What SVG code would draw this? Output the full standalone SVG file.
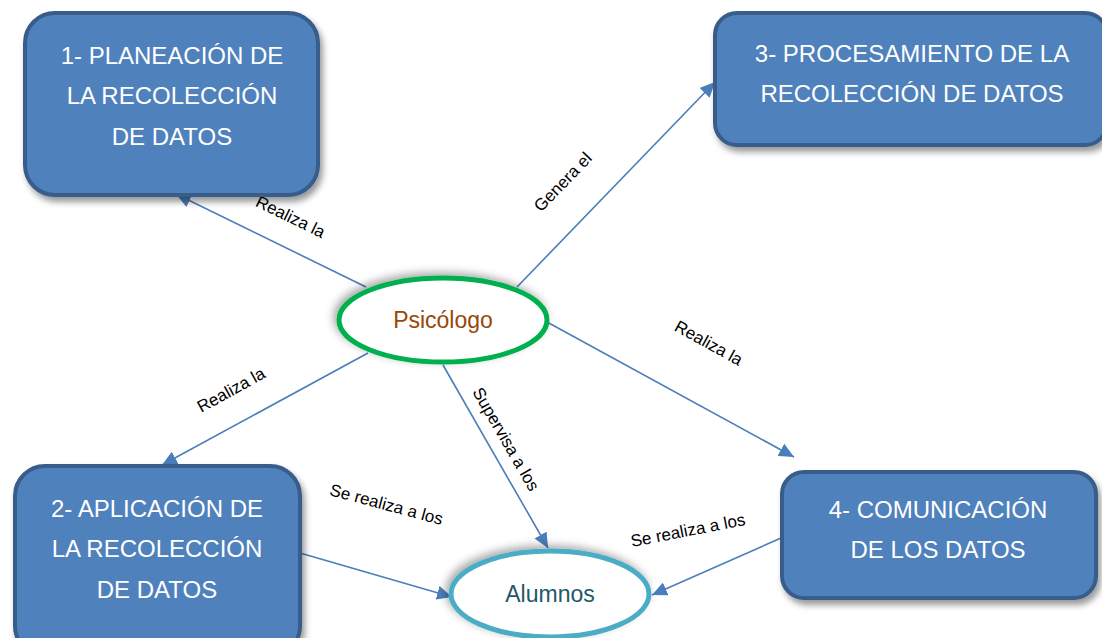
<svg xmlns="http://www.w3.org/2000/svg" width="1102" height="638" viewBox="0 0 1102 638">
<style>
.box{fill:#4F81BD;stroke:#385D8A;stroke-width:4}
.bt{font-family:"Liberation Sans",Arial,sans-serif;font-size:24px;fill:#FFFFFF;text-anchor:middle}
.conn{stroke:#4A7EBB;stroke-width:1.6;fill:none;marker-end:url(#ah)}
.lbl{font-family:"Liberation Sans",Arial,sans-serif;font-size:17px;fill:#000000;text-anchor:middle}
</style>
<defs>
<marker id="ah" markerUnits="userSpaceOnUse" markerWidth="16" markerHeight="14" refX="15" refY="7" orient="auto">
<path d="M0,0 L15,7 L0,14 Z" fill="#4A7EBB"/>
</marker>
<filter id="sh" x="-10%" y="-10%" width="125%" height="130%">
<feDropShadow dx="3" dy="5" stdDeviation="3" flood-color="#000" flood-opacity="0.4"/>
</filter>
<filter id="esh" x="-15%" y="-25%" width="130%" height="150%">
<feDropShadow dx="-3" dy="-3" stdDeviation="4" flood-color="#000" flood-opacity="0.35"/>
</filter>
</defs>
<rect width="1102" height="638" fill="#FFFFFF"/>
<g id="connectors">
<line class="conn" x1="366" y1="287" x2="176" y2="194"/>
<line class="conn" x1="517" y1="287" x2="715" y2="82"/>
<line class="conn" x1="547" y1="322" x2="794" y2="457"/>
<line class="conn" x1="368" y1="353" x2="162" y2="465"/>
<line class="conn" x1="443" y1="365" x2="548" y2="548"/>
<line class="conn" x1="300" y1="553" x2="452" y2="597"/>
<line class="conn" x1="781" y1="538" x2="652" y2="595"/>
<text class="lbl" transform="translate(288,222) rotate(26)">Realiza la</text>
<text class="lbl" transform="translate(567,186) rotate(-46)">Genera el</text>
<text class="lbl" transform="translate(706,348) rotate(29)">Realiza la</text>
<text class="lbl" transform="translate(234,395) rotate(-29)">Realiza la</text>
<text class="lbl" transform="translate(501,442) rotate(60)">Supervisa a los</text>
<text class="lbl" transform="translate(385,510) rotate(15)">Se realiza a los</text>
<text class="lbl" transform="translate(689,536) rotate(-11)">Se realiza a los</text>
</g>
<g id="node1">
<rect class="box" x="25" y="13" width="293" height="182" rx="30" filter="url(#sh)"/>
<text class="bt" x="172" y="64">1- PLANEACIÓN DE</text>
<text class="bt" x="172" y="104">LA RECOLECCIÓN</text>
<text class="bt" x="172" y="145">DE DATOS</text>
</g>
<g id="node3">
<rect class="box" x="715" y="13" width="392" height="132" rx="22" filter="url(#sh)"/>
<text class="bt" x="912" y="62">3- PROCESAMIENTO DE LA</text>
<text class="bt" x="912" y="102">RECOLECCIÓN DE DATOS</text>
</g>
<g id="node2">
<rect class="box" x="15" y="466" width="285" height="190" rx="30" filter="url(#sh)"/>
<text class="bt" x="157" y="517">2- APLICACIÓN DE</text>
<text class="bt" x="157" y="557">LA RECOLECCIÓN</text>
<text class="bt" x="157" y="598">DE DATOS</text>
</g>
<g id="node4">
<rect class="box" x="782" y="472" width="314" height="126" rx="22" filter="url(#sh)"/>
<text class="bt" x="938" y="518">4- COMUNICACIÓN</text>
<text class="bt" x="938" y="558">DE LOS DATOS</text>
</g>
<g id="psicologo">
<ellipse cx="443" cy="320" rx="104" ry="42" fill="#FFFFFF" stroke="#00B050" stroke-width="5" filter="url(#esh)"/>
<text x="443" y="328" font-family="Liberation Sans,Arial,sans-serif" font-size="23" fill="#984807" text-anchor="middle">Psicólogo</text>
</g>
<g id="alumnos">
<ellipse cx="550" cy="594" rx="99" ry="43" fill="#FFFFFF" stroke="#4BACC6" stroke-width="5" filter="url(#esh)"/>
<text x="550" y="602" font-family="Liberation Sans,Arial,sans-serif" font-size="23" fill="#215968" text-anchor="middle">Alumnos</text>
</g>
</svg>
